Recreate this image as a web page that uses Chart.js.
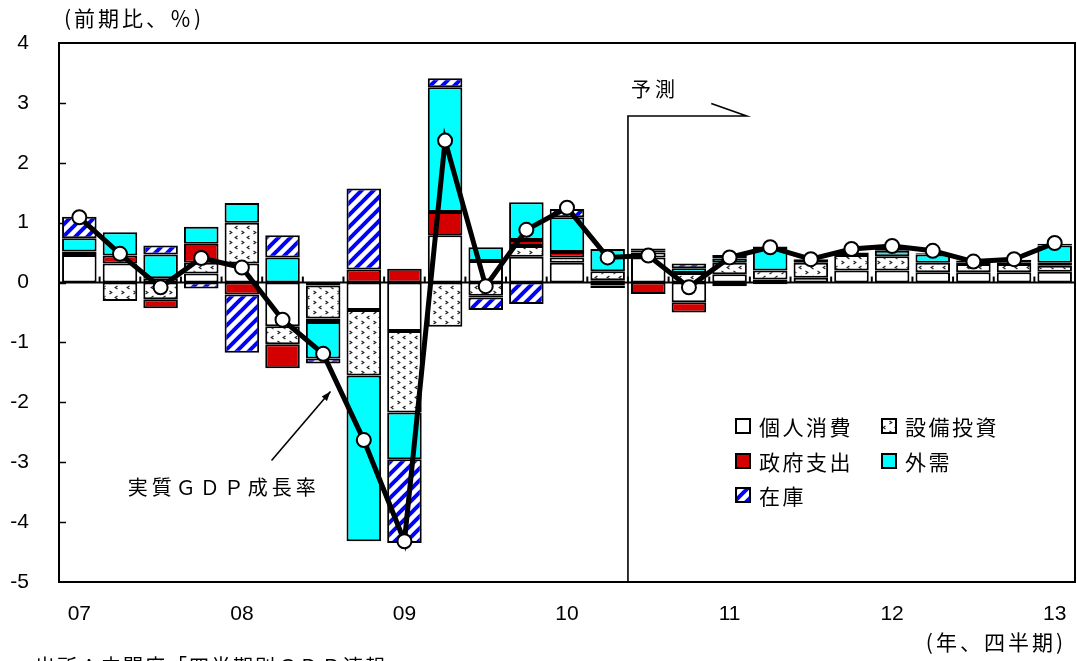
<!DOCTYPE html>
<html><head><meta charset="utf-8">
<script src="https://cdn.jsdelivr.net/npm/chart.js@4.4.1/dist/chart.umd.min.js"></script>
<style>html,body{margin:0;padding:0;background:#fff;overflow:hidden}canvas{display:block}</style>
</head><body>
<canvas id="c" width="1077" height="661"></canvas>
<script>
// ---- data ----
const categories = ['07Q1','07Q2','07Q3','07Q4','08Q1','08Q2','08Q3','08Q4','09Q1','09Q2','09Q3','09Q4',
  '10Q1','10Q2','10Q3','10Q4','11Q1','11Q2','11Q3','11Q4','12Q1','12Q2','12Q3','12Q4','13Q1'];
const tickLabels = ['07','','','','08','','','','09','','','','10','','','','11','','','','12','','','','13'];
const consumption = [0.46,0.32,0.07,0.15,0.32,-0.73,-0.05,-0.46,-0.81,0.79,0.36,0.43,0.33,0.04,0.42,-0.33,0.14,0.05,0.08,0.20,0.20,0.17,0.17,0.17,0.18];
const investment  = [0.06,-0.31,-0.28,0.18,0.68,-0.30,-0.55,-1.09,-1.36,-0.74,-0.22,0.18,0.09,0.15,0.08,0.16,0.19,0.15,0.25,0.26,0.24,0.16,0.14,0.14,0.10];
const government  = [0,0.13,-0.15,0.32,-0.20,-0.40,-0.06,0.22,0.23,0.39,-0.03,0.10,0.09,-0.05,-0.19,-0.17,-0.06,-0.03,0,0,0,0,0,0,0.05];
const netExports  = [0.22,0.39,0.40,0.28,0.33,0.42,-0.61,-2.77,-0.78,2.08,0.23,0.63,0.58,0.37,0.03,0.08,0.07,0.36,0.03,0,0.09,0.14,0.02,0.02,0.29];
const inventory   = [0.36,0,0.15,-0.10,-0.97,0.37,-0.08,1.35,-1.40,0.15,-0.21,-0.36,0.14,-0.04,0.04,0.08,0.06,0.04,0.03,0.04,0.04,0.02,0.04,0.05,0.03];
const gdpGrowth   = [1.09,0.48,-0.08,0.41,0.25,-0.62,-1.19,-2.63,-4.32,2.37,-0.06,0.88,1.25,0.42,0.45,-0.08,0.42,0.59,0.39,0.56,0.61,0.53,0.35,0.39,0.66];
const seriesNames = ['個人消費','設備投資','政府支出','外需','在庫'];
const yMin = -5, yMax = 4;
const forecastStartIndex = 14;

const CJK = '"Noto Sans CJK JP", sans-serif';
const LAT = '"Liberation Sans", Arial, sans-serif';

const mainCtx = document.getElementById('c').getContext('2d');
function dotPattern(){
  const c = document.createElement('canvas'); c.width = 12; c.height = 10;
  const g = c.getContext('2d');
  g.fillStyle = '#fff'; g.fillRect(0,0,12,10);
  g.strokeStyle = '#222'; g.lineWidth = 1.2;
  g.beginPath(); g.moveTo(1.5,1); g.lineTo(3.8,2.5); g.lineTo(1.5,4); g.stroke();
  g.beginPath(); g.moveTo(9.5,6); g.lineTo(7.2,7.5); g.lineTo(9.5,9); g.stroke();
  return mainCtx.createPattern(c,'repeat');
}
function hatchPattern(){
  const c = document.createElement('canvas'); c.width = 12; c.height = 12;
  const g = c.getContext('2d');
  g.fillStyle = '#fff'; g.fillRect(0,0,12,12);
  g.strokeStyle = '#0000ff'; g.lineWidth = 4;
  for (let k = -12; k <= 24; k += 12){ g.beginPath(); g.moveTo(k-2,14); g.lineTo(k+14,-2); g.stroke(); }
  return mainCtx.createPattern(c,'repeat');
}
const fills = ['#ffffff', dotPattern(), '#d40000', '#00ffff', hatchPattern()];
const seriesData = [consumption, investment, government, netExports, inventory];

const bw = ctx => (ctx.raw === 0 || ctx.raw == null) ? 0 : 2;
const barSets = seriesNames.map((n,i) => ({
  type:'bar', label:n, data:seriesData[i], backgroundColor:fills[i], borderColor:'#000',
  borderWidth:bw, borderSkipped:false, stack:'s', order:1,
  categoryPercentage:1, barPercentage:0.85
}));

const decor = {
  id:'decor',
  beforeDatasetsDraw(chart){
    const {ctx, chartArea:a, scales:{x,y}} = chart;
    ctx.save();
    ctx.strokeStyle = '#000';
    ctx.lineWidth = 1.5;
    for (let v = yMin+1; v < yMax; v++){
      const py = Math.round(y.getPixelForValue(v))+0.5;
      ctx.beginPath(); ctx.moveTo(a.left, py); ctx.lineTo(a.left+7, py); ctx.stroke();
    }
    const y0 = y.getPixelForValue(0);
    ctx.lineWidth = 2;
    ctx.beginPath(); ctx.moveTo(a.left, y0); ctx.lineTo(a.right, y0); ctx.stroke();
    for (let i = 1; i < categories.length; i++){
      const px = (x.getPixelForValue(i-1)+x.getPixelForValue(i))/2;
      ctx.beginPath(); ctx.moveTo(px, y0); ctx.lineTo(px, y0-6); ctx.stroke();
    }
    ctx.restore();
  },
  afterDatasetsDraw(chart){
    const {ctx, chartArea:a, scales:{x,y}} = chart;
    ctx.save();
    ctx.strokeStyle = '#000'; ctx.lineWidth = 2;
    ctx.strokeRect(a.left, a.top, a.right-a.left, a.bottom-a.top);
    // forecast bracket
    const fx = (x.getPixelForValue(forecastStartIndex-1)+x.getPixelForValue(forecastStartIndex))/2;
    const fy = y.getPixelForValue(2.78);
    const fxr = x.getPixelForValue(16.42);
    ctx.lineWidth = 1.6;
    ctx.beginPath(); ctx.moveTo(fx, a.bottom); ctx.lineTo(fx, fy); ctx.lineTo(fxr, fy);
    ctx.lineTo(x.getPixelForValue(15.55), y.getPixelForValue(2.99)); ctx.stroke();
    ctx.fillStyle = '#000';
    ctx.font = '20px ' + CJK; ctx.textBaseline = 'middle'; ctx.textAlign = 'left';
    ctx.letterSpacing = '4px';
    ctx.fillText('予測', fx+3, y.getPixelForValue(3.23));
    // GDP annotation arrow
    const ax1 = x.getPixelForValue(4.73), ay1 = y.getPixelForValue(-2.97);
    const ax2 = x.getPixelForValue(6.18), ay2 = y.getPixelForValue(-1.82);
    ctx.lineWidth = 1.6;
    ctx.beginPath(); ctx.moveTo(ax1, ay1); ctx.lineTo(ax2, ay2); ctx.stroke();
    const ang = Math.atan2(ay2-ay1, ax2-ax1);
    ctx.beginPath(); ctx.moveTo(ax2, ay2);
    ctx.lineTo(ax2-10*Math.cos(ang-0.35), ay2-10*Math.sin(ang-0.35));
    ctx.lineTo(ax2-10*Math.cos(ang+0.35), ay2-10*Math.sin(ang+0.35));
    ctx.closePath(); ctx.fill();
    ctx.font = '20px ' + CJK; ctx.letterSpacing = '4px';
    ctx.fillText('実質ＧＤＰ成長率', x.getPixelForValue(1.19), y.getPixelForValue(-3.42));
    // legend
    const cols = [736, 882], rows = [426, 461, 495];
    ctx.font = '21px ' + CJK; ctx.letterSpacing = '2.5px';
    seriesNames.forEach((n,i) => {
      const sx = cols[i%2], sy = rows[Math.floor(i/2)];
      ctx.fillStyle = fills[i];
      ctx.fillRect(sx, sy-7, 14, 14);
      ctx.strokeStyle = '#000'; ctx.lineWidth = 2;
      ctx.strokeRect(sx, sy-7, 14, 14);
      ctx.fillStyle = '#000';
      ctx.fillText(n, sx+23, sy+1);
    });
    // axis titles and source
    ctx.font = '21px ' + CJK; ctx.letterSpacing = '3px';
    ctx.fillText('(前期比、％)', 64, 18);
    ctx.textAlign = 'right';
    ctx.fillText('(年、四半期)', 1066, 642);
    ctx.textAlign = 'left'; ctx.textBaseline = 'top';
    ctx.font = '20px ' + CJK; ctx.letterSpacing = '2px';
    ctx.fillText('出所：内閣府「四半期別ＧＤＰ速報」', 35, 656);
    ctx.restore();
  }
};

new Chart(mainCtx, {
  data:{
    labels:categories,
    datasets:[
      {type:'line', label:'実質ＧＤＰ成長率', data:gdpGrowth, borderColor:'#000', borderWidth:5,
       pointRadius:7, pointBackgroundColor:'#fff', pointBorderColor:'#000', pointBorderWidth:2,
       tension:0, order:0, stack:'gdp'},
      ...barSets
    ]
  },
  options:{
    responsive:false, animation:false, devicePixelRatio:1,
    layout:{autoPadding:false, padding:{top:43, right:2, left:0, bottom:0}},
    plugins:{legend:{display:false}, tooltip:{enabled:false}},
    scales:{
      x:{stacked:true, grid:{display:false, drawTicks:false}, border:{display:false},
         ticks:{autoSkip:false, maxRotation:0, color:'#000', font:{family:LAT, size:21}, padding:20,
                callback:(v,i)=>tickLabels[i]},
         afterFit:s=>{s.height = 79; s.paddingLeft = 0; s.paddingRight = 0;}},
      y:{stacked:true, min:yMin, max:yMax, grid:{display:false, drawTicks:false}, border:{display:false},
         ticks:{stepSize:1, color:'#000', font:{family:LAT, size:21}, padding:30},
         afterFit:s=>{s.width = 59; s.paddingTop = 0; s.paddingBottom = 0;}}
    }
  },
  plugins:[decor]
});
</script>
</body></html>
